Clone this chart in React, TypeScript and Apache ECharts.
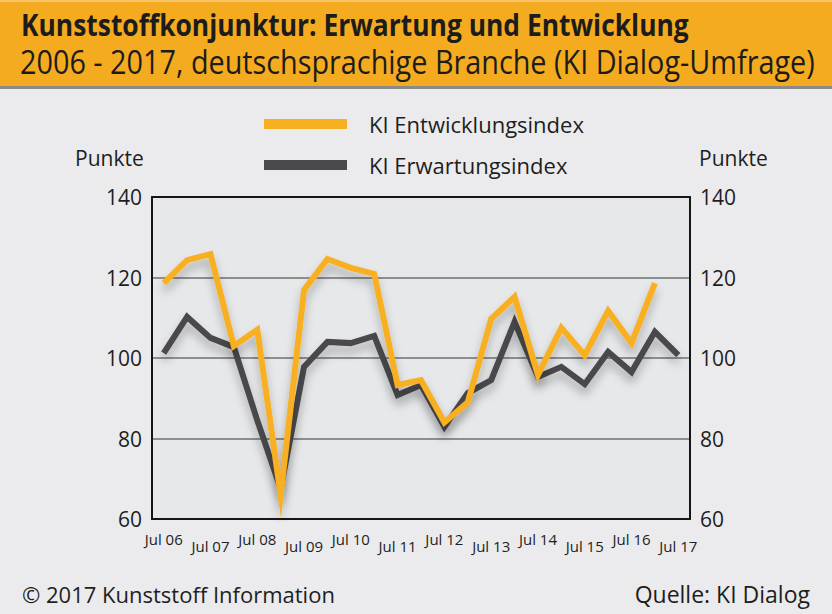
import React, { useEffect, useRef } from 'react';
import * as echarts from 'echarts';

const categories = [
  'Jul 06', 'Jan 07', 'Jul 07', 'Jan 08', 'Jul 08', 'Jan 09', 'Jul 09', 'Jan 10',
  'Jul 10', 'Jan 11', 'Jul 11', 'Jan 12', 'Jul 12', 'Jan 13', 'Jul 13', 'Jan 14',
  'Jul 14', 'Jan 15', 'Jul 15', 'Jan 16', 'Jul 16', 'Jan 17', 'Jul 17',
];

const entwicklungsindex = [
  118.6, 124.3, 125.8, 103, 107, 66, 116.9, 124.6, 122.4, 120.9, 93.3, 94.5,
  84, 89, 109.7, 115.2, 95.8, 107.5, 100.7, 111.7, 103.7, 118.6, null,
];

const erwartungsindex = [
  101.2, 110.2, 105, 102.7, 84.5, 67.5, 97.8, 104, 103.7, 105.5, 90.8, 93.3,
  82.9, 91.3, 94.5, 109, 95.3, 97.8, 93.5, 101.5, 96.5, 106.5, 100.7,
];

const yTicks = [60, 80, 100, 120, 140];

const FONT = '"Open Sans", "Noto Sans", sans-serif';
const TEXT = '#1e1e1e';

export default function App() {
  const ref = useRef<HTMLDivElement>(null);

  useEffect(() => {
    if (!ref.current) return;
    const chart = echarts.init(ref.current, undefined, { renderer: 'svg' });
    const yMin = yTicks[0];
    const yMax = yTicks[yTicks.length - 1];
    const yInterval = yTicks[1] - yTicks[0];

    const option: any = {
      animation: false,
      backgroundColor: '#ebebed',
      textStyle: { fontFamily: FONT },
      grid: {
        left: 152,
        right: 142,
        top: 197,
        bottom: 95,
        show: true,
        backgroundColor: '#e7e8ea',
        borderWidth: 0,
      },
      legend: {
        data: ['KI Entwicklungsindex', 'KI Erwartungsindex'],
        orient: 'vertical',
        left: 259,
        top: 108,
        itemWidth: 83,
        itemHeight: 10,
        itemGap: 19,
        icon: 'rect',
        selectedMode: false,
        textStyle: { fontSize: 22, color: TEXT, fontFamily: FONT, padding: [0, 0, 0, 17] },
      },
      xAxis: [
        {
          type: 'category',
          data: categories,
          boundaryGap: true,
          axisLine: { lineStyle: { color: '#151515', width: 2 } },
          axisTick: {
            inside: true,
            length: 8,
            alignWithLabel: true,
            interval: (i: number) => i % 2 === 0,
            lineStyle: { color: '#151515', width: 2 },
          },
          axisLabel: {
            interval: (i: number) => i % 2 === 0,
            margin: 12,
            formatter: (v: string, i: number) => ((i / 2) % 2 === 0 ? `{a|${v}}` : `{b|${v}}`),
            rich: {
              a: { fontSize: 15, color: TEXT, fontFamily: FONT, padding: [0, 0, 0, 0] },
              b: { fontSize: 15, color: TEXT, fontFamily: FONT, padding: [7, 0, 0, 0] },
            },
          },
          splitLine: { show: false },
        },
        {
          type: 'category',
          data: categories,
          position: 'top',
          boundaryGap: true,
          axisLine: { lineStyle: { color: '#151515', width: 2 } },
          axisTick: { show: false },
          axisLabel: { show: false },
          splitLine: { show: false },
        },
      ],
      yAxis: [
        {
          type: 'value',
          position: 'left',
          min: yMin,
          max: yMax,
          interval: yInterval,
          axisLine: { show: true, lineStyle: { color: '#151515', width: 2 } },
          axisTick: { show: false },
          axisLabel: { fontSize: 21, color: TEXT, fontFamily: FONT, margin: 10 },
          splitLine: {
            show: true,
            showMinLine: false,
            showMaxLine: false,
            lineStyle: { color: '#8e8e8e', width: 2 },
          },
        },
        {
          type: 'value',
          position: 'right',
          min: yMin,
          max: yMax,
          interval: yInterval,
          axisLine: { show: true, lineStyle: { color: '#151515', width: 2 } },
          axisTick: { show: false },
          axisLabel: { fontSize: 21, color: TEXT, fontFamily: FONT, margin: 10 },
          splitLine: { show: false },
        },
      ],
      series: [
        {
          type: 'line',
          name: 'KI Erwartungsindex',
          data: erwartungsindex,
          symbol: 'none',
          color: '#4a4a4c',
          lineStyle: {
            color: '#4a4a4c',
            width: 6,
            join: 'miter',
            miterLimit: 20,
            shadowBlur: 10,
            shadowColor: 'rgba(0,0,0,0.28)',
            shadowOffsetY: 7,
          },
          z: 3,
        },
        {
          type: 'line',
          name: 'KI Entwicklungsindex',
          data: entwicklungsindex,
          symbol: 'none',
          color: '#f8b023',
          lineStyle: {
            color: '#f8b023',
            width: 6,
            join: 'miter',
            miterLimit: 20,
            shadowBlur: 10,
            shadowColor: 'rgba(0,0,0,0.28)',
            shadowOffsetY: 7,
          },
          z: 4,
        },
      ],
      graphic: [
        { type: 'rect', shape: { x: 0, y: 0, width: 832, height: 86 }, style: { fill: '#f5ab1f' }, z: 10 },
        { type: 'rect', shape: { x: 0, y: 0, width: 832, height: 2 }, style: { fill: '#f7c46a' }, z: 11 },
        { type: 'rect', shape: { x: 0, y: 86, width: 832, height: 3 }, style: { fill: '#8a8a8a' }, z: 11 },
        {
          type: 'text',
          x: 21,
          y: 24,
          scaleX: 0.88,
          z: 12,
          style: {
            text: 'Kunststoffkonjunktur: Erwartung und Entwicklung',
            fontFamily: FONT,
            fontWeight: 'bold',
            fontSize: 30,
            fill: '#1c1c1c',
            verticalAlign: 'middle',
          },
        },
        {
          type: 'text',
          x: 20,
          y: 61,
          scaleX: 0.9,
          z: 12,
          style: {
            text: '2006 - 2017, deutschsprachige Branche (KI Dialog-Umfrage)',
            fontFamily: FONT,
            fontSize: 32,
            fill: '#1c1c1c',
            verticalAlign: 'middle',
          },
        },
        {
          type: 'text',
          x: 75,
          y: 158,
          z: 12,
          style: { text: 'Punkte', fontFamily: FONT, fontSize: 21, fill: TEXT, verticalAlign: 'middle' },
        },
        {
          type: 'text',
          x: 699,
          y: 158,
          z: 12,
          style: { text: 'Punkte', fontFamily: FONT, fontSize: 21, fill: TEXT, verticalAlign: 'middle' },
        },
        {
          type: 'text',
          x: 22,
          y: 594,
          z: 12,
          style: { text: '© 2017 Kunststoff Information', fontFamily: FONT, fontSize: 22, fill: TEXT, verticalAlign: 'middle' },
        },
        {
          type: 'text',
          x: 810,
          y: 594,
          z: 12,
          style: { text: 'Quelle: KI Dialog', fontFamily: FONT, fontSize: 23, fill: TEXT, verticalAlign: 'middle', align: 'right' },
        },
      ],
    };

    chart.setOption(option);
    return () => chart.dispose();
  }, []);

  return (
    <div
      ref={ref}
      style={{ position: 'fixed', left: 0, top: 0, width: 832, height: 614 }}
    />
  );
}
